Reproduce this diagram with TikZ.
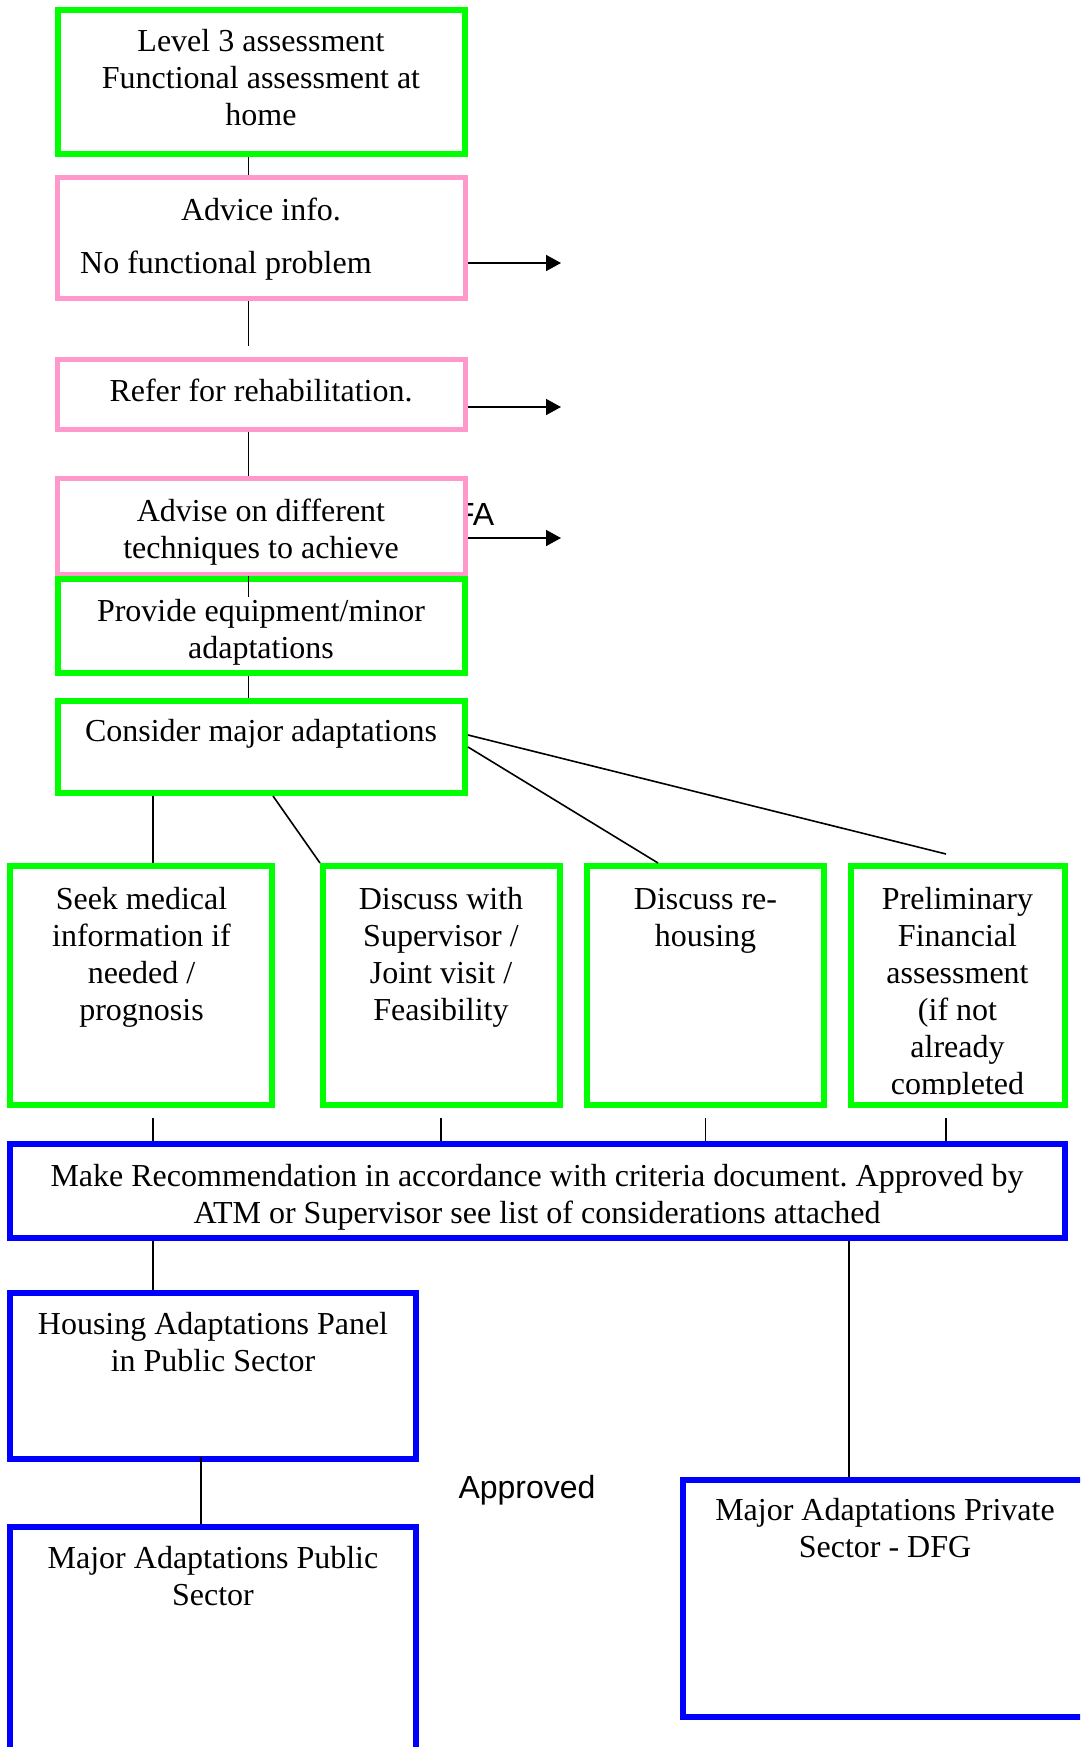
\documentclass[tikz,border=0pt]{standalone}
\usepackage{fontspec}
\setmainfont{Liberation Serif}
\newfontfamily\sansf{Liberation Sans}
\usetikzlibrary{arrows.meta}
\definecolor{bgreen}{HTML}{00FF00}
\definecolor{bpink}{HTML}{FF99CC}
\definecolor{bblue}{HTML}{0000FF}
\begin{document}
\frenchspacing
\begin{tikzpicture}[x=1pt,y=-1pt,
  gbox/.style={draw=bgreen, line width=6pt, fill=white, inner sep=0pt},
  pbox/.style={draw=bpink, line width=5.3pt, fill=white, inner sep=0pt},
  bbox/.style={draw=bblue, line width=6pt, fill=white, inner sep=0pt},
  txt/.style={font=\fontsize{32}{37}\selectfont, align=center, inner sep=0pt, anchor=north},
  stxt/.style={font=\sansf\fontsize{32}{37}\selectfont, inner sep=0pt},
  conn/.style={line width=1.6pt, draw=black},
  arr/.style={conn, -{Triangle[length=15pt,width=16pt]}}
]
\clip (0,0) rectangle (1080,1747);
\fill[white] (0,0) rectangle (1080,1747);
\coordinate (lx) at (248.6,0);
% FA text partly hidden behind box 4
\node[stxt, anchor=north west] (fa) at (455,503) {FA};
% top column
\node[gbox, minimum width=407pt, minimum height=144pt] (b1) at (261.5,82) {};
\node[pbox, minimum width=407.7pt, minimum height=120.7pt] (b2) at (261.5,238) {};
\node[pbox, minimum width=407.7pt, minimum height=69.7pt] (b3) at (261.5,394.5) {};
\node[pbox, minimum width=407.7pt, minimum height=95.7pt] (b4) at (261.5,526.5) {};
\node[gbox, minimum width=407pt, minimum height=94pt] (b5) at (261.5,626) {};
\node[gbox, minimum width=407pt, minimum height=92pt] (b6) at (261.5,747) {};
% row
\node[gbox, minimum width=262pt, minimum height=239pt] (b7) at (141,985.5) {};
\node[gbox, minimum width=237pt, minimum height=239pt] (b8) at (441.5,985.5) {};
\node[gbox, minimum width=237pt, minimum height=239pt] (b9) at (705.5,985.5) {};
\node[gbox, minimum width=214pt, minimum height=239pt] (b10) at (958,985.5) {};
% blue
\node[bbox, minimum width=1055pt, minimum height=94pt] (b11) at (537.5,1191) {};
\node[bbox, minimum width=406pt, minimum height=166pt] (b12) at (213,1376) {};
\node[bbox, minimum width=406pt, minimum height=270pt] (b13) at (213,1662) {};
\node[bbox, minimum width=414pt, minimum height=237pt] (b14) at (890,1598.5) {};

% texts
\node[txt] (t1) at (261,29.5) {Level 3 assessment\\Functional assessment at\\home};
\node[txt] (t2a) at (261,197.5) {Advice info.};
\node[txt, anchor=north west] (t2b) at (80,251) {No functional problem};
\node[txt] (t3) at (261,379) {Refer for rehabilitation.};
\node[txt] (t4) at (261,498.5) {Advise on different\\techniques to achieve};
\node[txt] (t5) at (261,599) {Provide equipment/minor\\adaptations};
\node[txt] (t6) at (261,719) {Consider major adaptations};
\node[txt] (t7) at (141.5,887.5) {Seek medical\\information if\\needed /\\prognosis};
\node[txt] (t8) at (441,887.5) {Discuss with\\Supervisor /\\Joint visit /\\Feasibility};
\node[txt] (t9) at (705.5,888) {Discuss re-\\housing};
\begin{scope}
\clip (851,866) rectangle (1065,1094);
\node[txt] (t10) at (957.5,887.5) {Preliminary\\Financial\\assessment\\(if not\\already\\completed};
\end{scope}
\node[txt] (t11) at (537,1164) {Make Recommendation in accordance with criteria document. Approved by\\ATM or Supervisor see list of considerations attached};
\node[txt] (t12) at (213,1312) {Housing Adaptations Panel\\in Public Sector};
\node[txt] (t13) at (213,1546) {Major Adaptations Public\\Sector};
\node[txt] (t14) at (885,1498) {Major Adaptations Private\\Sector - DFG};
\node[stxt, anchor=north] (appr) at (527,1475) {Approved};

% free ends
\coordinate (a2) at (561,263);
\coordinate (a3) at (561,407);
\coordinate (a4) at (561,538);
\coordinate (e10) at (946,854);

% connectors
\draw[conn] (b1.south -| lx) -- (b2.north -| lx);
\draw[conn, shorten >=11pt] (b2.south -| lx) -- (b3.north -| lx);
\draw[conn] (b3.south -| lx) -- (b4.north -| lx);
\draw[conn, shorten <=-20pt] (b4.south -| lx) -- (b5.north -| lx);
\draw[conn] (b5.south -| lx) -- (b6.north -| lx);
\draw[arr] (b2.east |- a2) -- (a2);
\draw[arr] (b3.east |- a3) -- (a3);
\draw[arr] (b4.east |- a4) -- (a4);

\draw[conn] (b6.south -| 153,0) -- (b7.north -| 153,0);
\draw[conn] (b6.south -| 273,0) -- (b8.north west);
\draw[conn] (b6.east) -- (b9.north -| 658,0);
\draw[conn] ([yshift=12pt]b6.east) -- (e10);

\draw[conn, shorten <=10pt] (b7.south -| 153,0) -- (b11.north -| 153,0);
\draw[conn, shorten <=10pt] (b8.south -| 441,0) -- (b11.north -| 441,0);
\draw[conn, shorten <=10pt] (b9.south -| 705.5,0) -- (b11.north -| 705.5,0);
\draw[conn, shorten <=10pt] (b10.south -| 946,0) -- (b11.north -| 946,0);

\draw[conn] (b11.south -| 153,0) -- (b12.north -| 153,0);
\draw[conn] (b11.south -| 849,0) -- (b14.north -| 849,0);
\draw[conn, shorten <=-5pt] (b12.south -| 201,0) -- (b13.north -| 201,0);
\end{tikzpicture}
\end{document}
